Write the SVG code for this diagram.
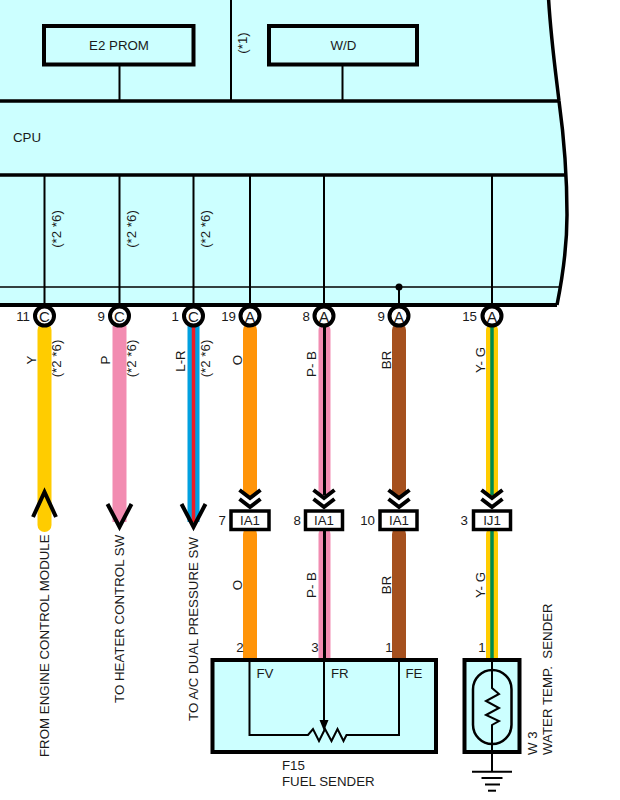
<svg xmlns="http://www.w3.org/2000/svg" width="620" height="800" viewBox="0 0 620 800">
<style>
text{font-family:"Liberation Sans",Arial,sans-serif;font-size:13.300px;fill:#1a1a1a}
.c{text-anchor:middle}
.r{text-anchor:end}
.l{font-size:15px}
.k{fill:none;stroke:#000;stroke-linecap:butt}
.t4{stroke-width:4}
.t3{stroke-width:3.500}
.t2{stroke-width:2}
.box{fill:#ccffff;stroke:#000;stroke-width:4}
.wb{fill:#fff;stroke:#000;stroke-width:3.500}
.pin{fill:#fff;stroke:#000;stroke-width:4}
.ar{fill:none;stroke:#000;stroke-width:4}
.w{fill:none;stroke-linecap:round}
</style>
<defs>
<path id="chev" d="M-10.500,-19 L0,-11 L10.500,-19 M-10.500,-10 L0,-2 L10.500,-10" class="ar"/>
</defs>
<g id="ecu-body">
<path d="M-5,101 V0 H548.500 C551,40 556,75 559,101 C563,130 567,165 567,215 C567,250 562,280 557,305 H-5 Z" fill="#ccffff"/>
<path d="M548.500,-2 C551,40 556,75 559,101 C563,130 567,165 567,215 C567,250 562,280 557,305" class="k t3"/>
<path d="M0,101 H559 M0,175 H566" class="k t3"/>
<path d="M0,287 H559" class="k" stroke-width="1.500"/>
<path d="M0,305 H557" class="k t4"/>
<text x="13" y="142">CPU</text>
</g>
<g id="connectors">
<path d="M119.500,65 V101 M231,0 V101 M342.500,65 V101" class="k t2"/>
<path d="M44.500,175 V305 M119.500,175 V305 M193.500,175 V305 M250,175 V305 M324,175 V305 M492,175 V305 M399,287 V305" class="k t2"/>
<circle cx="399" cy="287" r="3.500" fill="#000"/>
<path d="M44.500,330 V525" stroke="#ffcc00" stroke-width="14" class="w"/>
<path d="M33,517 L44.500,492 L56,517" class="ar"/>
<path d="M119.500,326 V522" stroke="#f28cb1" stroke-width="14" fill="none"/>
<path d="M107.500,504 L119.500,527 L131.500,504" class="ar"/>
<path d="M193.500,326 V522" stroke="#00a0e0" stroke-width="12" fill="none"/>
<path d="M193.500,326 V522" stroke="#ee1c25" stroke-width="3.500" fill="none"/>
<path d="M181.500,504 L193.500,527 L205.500,504" class="ar"/>
<path d="M250,330 V491" stroke="#ff9408" stroke-width="14" class="w"/>
<path d="M250,534 V658" stroke="#ff9408" stroke-width="14" class="w"/>
<path d="M324.500,330 V491" stroke="#f28cb1" stroke-width="12" class="w"/>
<path d="M324.500,534 V658" stroke="#f28cb1" stroke-width="12" class="w"/>
<path d="M324.500,326 V495 M324.500,530 V660" stroke="#000" stroke-width="3" fill="none"/>
<path d="M399,330 V491" stroke="#a5501e" stroke-width="14" class="w"/>
<path d="M399,534 V658" stroke="#a5501e" stroke-width="14" class="w"/>
<path d="M492,330 V491" stroke="#ffcc00" stroke-width="12" class="w"/>
<path d="M492,534 V658" stroke="#ffcc00" stroke-width="12" class="w"/>
<path d="M492,326 V495 M492,530 V658" stroke="#008a50" stroke-width="3.500" fill="none"/>
<use href="#chev" x="250" y="509"/>
<use href="#chev" x="324" y="509"/>
<use href="#chev" x="399" y="509"/>
<use href="#chev" x="492" y="509"/>
</g>
<g id="e2prom"><rect x="44" y="26" width="149.500" height="38.500" fill="none" stroke="#000" stroke-width="4"/><text class="c" x="119" y="50">E2 PROM</text></g>
<g id="wd"><rect x="269" y="26" width="148" height="38.500" fill="none" stroke="#000" stroke-width="4"/><text class="c" x="343.500" y="50">W/D</text></g>
<g id="labels-ecu">
<text class="c" transform="translate(247,43) rotate(-90)">(*1)</text>
<text class="c" transform="translate(61,229) rotate(-90)">(*2 *6)</text>
<text class="c" transform="translate(135.500,229) rotate(-90)">(*2 *6)</text>
<text class="c" transform="translate(210,229) rotate(-90)">(*2 *6)</text>
</g>
<g id="pin-c11"><circle class="pin" cx="44.500" cy="316" r="9.500"/><text class="c l" x="44.500" y="321.500">C</text><text class="r" x="30" y="321">11</text></g>
<g id="pin-c9"><circle class="pin" cx="119.500" cy="316" r="9.500"/><text class="c l" x="119.500" y="321.500">C</text><text class="r" x="105" y="321">9</text></g>
<g id="pin-c1"><circle class="pin" cx="193.500" cy="316" r="9.500"/><text class="c l" x="193.500" y="321.500">C</text><text class="r" x="179" y="321">1</text></g>
<g id="pin-a19"><circle class="pin" cx="250" cy="316" r="9.500"/><text class="c l" x="250" y="321.500">A</text><text class="r" x="236" y="321">19</text></g>
<g id="pin-a8"><circle class="pin" cx="324" cy="316" r="9.500"/><text class="c l" x="324" y="321.500">A</text><text class="r" x="310" y="321">8</text></g>
<g id="pin-a9"><circle class="pin" cx="399" cy="316" r="9.500"/><text class="c l" x="399" y="321.500">A</text><text class="r" x="385" y="321">9</text></g>
<g id="pin-a15"><circle class="pin" cx="492" cy="316" r="9.500"/><text class="c l" x="492" y="321.500">A</text><text class="r" x="477" y="321">15</text></g>
<g id="labels-wire">
<text class="c" transform="translate(36,360) rotate(-90)">Y</text>
<text class="c" transform="translate(61,358.500) rotate(-90)">(*2 *6)</text>
<text class="c" transform="translate(110,360) rotate(-90)">P</text>
<text class="c" transform="translate(135.500,358.500) rotate(-90)">(*2 *6)</text>
<text class="c" transform="translate(185,361) rotate(-90)">L-R</text>
<text class="c" transform="translate(210,358.500) rotate(-90)">(*2 *6)</text>
<text class="c" transform="translate(242,360) rotate(-90)">O</text>
<text class="c" transform="translate(316,364) rotate(-90)">P- B</text>
<text class="c" transform="translate(391,360) rotate(-90)">BR</text>
<text class="c" transform="translate(484.500,360) rotate(-90)">Y- G</text>
<text class="c" transform="translate(242,585) rotate(-90)">O</text>
<text class="c" transform="translate(316,585) rotate(-90)">P- B</text>
<text class="c" transform="translate(391,585) rotate(-90)">BR</text>
<text class="c" transform="translate(484.500,585) rotate(-90)">Y- G</text>
<text transform="translate(49.300,757) rotate(-90)">FROM ENGINE CONTROL MODULE</text>
<text transform="translate(124,703) rotate(-90)">TO HEATER CONTROL SW</text>
<text transform="translate(198,721) rotate(-90)">TO A/C DUAL PRESSURE SW</text>
</g>
<g id="ia1-7"><rect class="wb" x="231" y="511" width="38" height="18.500"/><text class="c" x="250" y="525">IA1</text><text class="r" x="226" y="525">7</text></g>
<g id="ia1-8"><rect class="wb" x="305.500" y="511" width="37" height="18.500"/><text class="c" x="324" y="525">IA1</text><text class="r" x="301" y="525">8</text></g>
<g id="ia1-10"><rect class="wb" x="380" y="511" width="37" height="18.500"/><text class="c" x="399" y="525">IA1</text><text class="r" x="375" y="525">10</text></g>
<g id="ij1-3"><rect class="wb" x="473.500" y="511" width="37" height="18.500"/><text class="c" x="492" y="525">IJ1</text><text class="r" x="468" y="525">3</text></g>
<g id="f15">
<rect class="box" x="212.500" y="660" width="223.500" height="92"/>
<path d="M249.500,660 V735 H308 L313,729 L319,741 L325,729 L331.500,741 L337.500,729 L343.500,741 L346.500,735 H399 V660 M324,660 V722" class="k t2"/>
<path d="M319.500,720 H328.500 L324,731 Z" fill="#000"/>
<text class="c" x="240" y="652">2</text><text class="c" x="315" y="652">3</text><text class="c" x="389" y="652">1</text>
<text x="256.500" y="678">FV</text><text x="331" y="678">FR</text><text x="405.500" y="678">FE</text>
<text x="282" y="769.500">F15</text><text x="282" y="785.500">FUEL SENDER</text>
</g>
<g id="w3">
<rect class="box" x="464.500" y="660" width="55" height="92"/>
<rect x="473" y="670" width="38.500" height="74" rx="19.250" fill="none" stroke="#000" stroke-width="2.500"/>
<path d="M492,660 V688 L499,694 L486,701 L499,708 L486,715 L499,721 L492,725 V772" class="k t2"/>
<path d="M472,771.700 H512" class="k t2"/>
<path d="M481.500,778 H502.500" class="k t2"/>
<path d="M485,784.500 H500" class="k t2"/>
<path d="M488,790.700 H496" class="k t2"/>
<text class="c" x="482" y="652">1</text>
<text transform="translate(537,755) rotate(-90)">W 3</text>
<text transform="translate(552,755) rotate(-90)">WATER TEMP.&#160; SENDER</text>
</g>
</svg>
